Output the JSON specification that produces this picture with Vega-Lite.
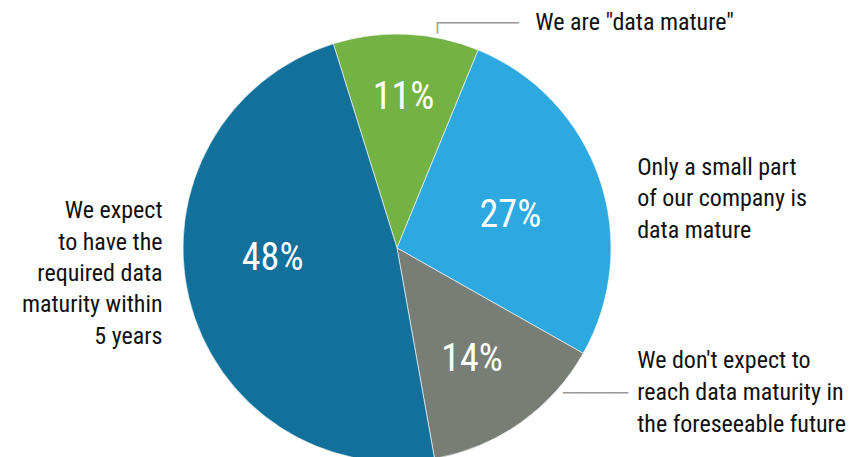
{
  "$schema": "https://vega.github.io/schema/vega-lite/v6.json",
  "width": 794,
  "height": 418,
  "autosize": {"type": "none"},
  "padding": {"left": 0, "top": 39, "right": 64, "bottom": 0},
  "background": "white",
  "config": {"view": {"stroke": null}},
  "data": {
    "values": [
      {"idx": 1, "cat": "We are \"data mature\"", "share": 0.11, "label": "We are \"data mature\""},
      {"idx": 2, "cat": "Only a small part of our company is data mature", "share": 0.27, "label": "Only a small part\nof our company is\ndata mature"},
      {"idx": 3, "cat": "We don't expect to reach data maturity in the foreseeable future", "share": 0.14, "label": "We don't expect to\nreach data maturity in\nthe foreseeable future"},
      {"idx": 4, "cat": "We expect to have the required data maturity within 5 years", "share": 0.48, "label": "We expect\nto have the\nrequired data\nmaturity within\n5 years"}
    ]
  },
  "encoding": {
    "theta": {"field": "share", "type": "quantitative", "stack": true, "scale": {"domain": [0, 1], "range": [-0.302, 5.9812]}},
    "order": {"field": "idx", "type": "quantitative"}
  },
  "layer": [
    {
      "mark": {"type": "arc", "outerRadius": 214, "stroke": "white", "strokeWidth": 0.6},
      "encoding": {
        "color": {"field": "cat", "type": "nominal", "legend": null,
          "scale": {"domain": ["We are \"data mature\"", "Only a small part of our company is data mature", "We don't expect to reach data maturity in the foreseeable future", "We expect to have the required data maturity within 5 years"],
                    "range": ["#74b243", "#2ea9e0", "#787d75", "#13709a"]}}
      }
    },
    {
      "mark": {"type": "text", "radius": 151, "dy": 1, "font": "Roboto Condensed", "fontSize": 38, "color": "white", "align": "center", "baseline": "middle"},
      "encoding": {"text": {"condition": {"test": "datum.idx === 1", "field": "share", "type": "quantitative", "format": ".0%"}, "value": ""}}
    },
    {
      "mark": {"type": "text", "radius": 120, "dy": 7, "font": "Roboto Condensed", "fontSize": 38, "color": "white", "align": "center", "baseline": "middle"},
      "encoding": {"text": {"condition": {"test": "datum.idx === 2", "field": "share", "type": "quantitative", "format": ".0%"}, "value": ""}}
    },
    {
      "mark": {"type": "text", "radius": 130, "dy": 5.6, "font": "Roboto Condensed", "fontSize": 38, "color": "white", "align": "center", "baseline": "middle"},
      "encoding": {"text": {"condition": {"test": "datum.idx === 3", "field": "share", "type": "quantitative", "format": ".0%"}, "value": ""}}
    },
    {
      "mark": {"type": "text", "radius": 128, "dy": -19.6, "font": "Roboto Condensed", "fontSize": 38, "color": "white", "align": "center", "baseline": "middle"},
      "encoding": {"text": {"condition": {"test": "datum.idx === 4", "field": "share", "type": "quantitative", "format": ".0%"}, "value": ""}}
    },
    {
      "mark": {"type": "text", "radius": 215, "dx": 129, "dy": -3, "font": "Roboto Condensed", "fontSize": 24, "color": "#111111", "align": "left", "baseline": "alphabetic", "lineBreak": "\n", "lineHeight": 31.6},
      "encoding": {"text": {"condition": {"test": "datum.idx === 1", "field": "label"}, "value": ""}}
    },
    {
      "mark": {"type": "text", "radius": 215, "dx": 37, "dy": -3, "font": "Roboto Condensed", "fontSize": 24, "color": "#111111", "align": "left", "baseline": "alphabetic", "lineBreak": "\n", "lineHeight": 31.6},
      "encoding": {"text": {"condition": {"test": "datum.idx === 2", "field": "label"}, "value": ""}}
    },
    {
      "mark": {"type": "text", "radius": 215, "dx": 116, "dy": -55, "font": "Roboto Condensed", "fontSize": 24, "color": "#111111", "align": "left", "baseline": "alphabetic", "lineBreak": "\n", "lineHeight": 31.6},
      "encoding": {"text": {"condition": {"test": "datum.idx === 3", "field": "label"}, "value": ""}}
    },
    {
      "mark": {"type": "text", "radius": 215, "dx": -25.6, "dy": -80.6, "font": "Roboto Condensed", "fontSize": 24, "color": "#111111", "align": "right", "baseline": "alphabetic", "lineBreak": "\n", "lineHeight": 31.3},
      "encoding": {"text": {"condition": {"test": "datum.idx === 4", "field": "label"}, "value": ""}}
    },
    {
      "mark": {"type": "text", "radius": 215, "dx": 25.7, "dy": -4.5, "font": "DejaVu Sans Mono", "fontSize": 18, "color": "#9a9a9a", "align": "left", "baseline": "alphabetic"},
      "encoding": {"text": {"condition": {"test": "datum.idx === 1", "value": "┌───────"}, "value": ""}}
    },
    {
      "mark": {"type": "text", "radius": 215, "dx": 41.8, "dy": -24.8, "font": "DejaVu Sans Mono", "fontSize": 18, "color": "#9a9a9a", "align": "left", "baseline": "alphabetic"},
      "encoding": {"text": {"condition": {"test": "datum.idx === 3", "value": "──────"}, "value": ""}}
    }
  ]
}
